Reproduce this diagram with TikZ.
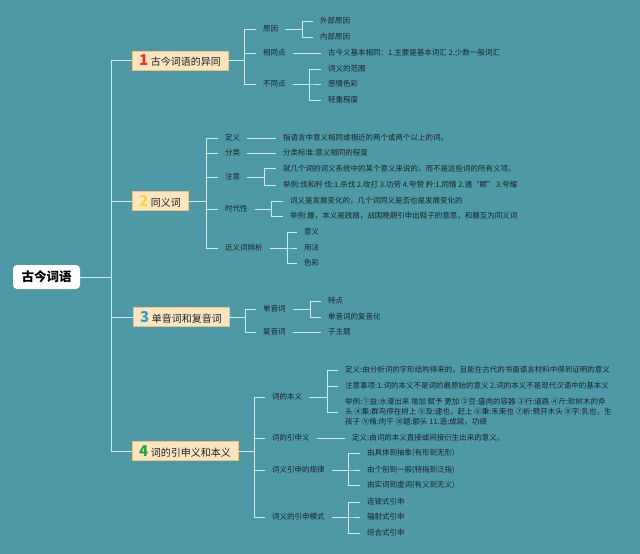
\documentclass[tikz,border=0pt]{standalone}
\usepackage{fontspec}
\setmainfont{Noto Sans CJK SC}
\definecolor{bg}{HTML}{4F98A6}
\definecolor{ln}{HTML}{CDEEF1}
\definecolor{tx}{HTML}{17252C}
\definecolor{boxf}{HTML}{FCE5BE}
\definecolor{boxd}{HTML}{E2C48C}
\definecolor{nred}{HTML}{E5352B}
\definecolor{nyel}{HTML}{F2D642}
\definecolor{nblu}{HTML}{2C9AD6}
\definecolor{ngrn}{HTML}{2E9E3A}
\newcommand\topicnum[2]{{\fontsize{15}{15}\selectfont\bfseries\color{#1}#2}\hspace{2.5pt}}
\tikzset{
  ezero/.style={draw=ln, line width=1pt},
  eone/.style={ezero, shorten >=5pt},
  etwo/.style={ezero, shorten >=5pt, shorten <=5pt},
  lab/.style={anchor=west, inner xsep=2pt, inner ysep=1pt, text=tx,
    font=\fontsize{7.5}{10}\selectfont, align=left},
  topic/.style={anchor=west, fill=boxf, draw=boxd, line width=0.4pt,
    minimum height=19pt, inner xsep=7pt, inner ysep=0pt, text=tx,
    font=\fontsize{10}{12}\selectfont},
  rootbox/.style={fill=white, rounded corners=4pt, minimum width=67pt,
    minimum height=24pt, inner sep=0pt, font=\fontsize{12.5}{14}\selectfont\bfseries, text=black}
}
\begin{document}
\begin{tikzpicture}[x=1pt,y=-1pt]
\fill[bg] (0,0) rectangle (640,554);
\useasboundingbox (0,0) rectangle (640,554);

% root and trunk
\node[rootbox] (root) at (46.5,277) {古今词语};
\coordinate (jt) at (111,0);
\node[topic] (t1) at (132,60.5) {\topicnum{nred}{1}古今词语的异同};
\node[topic] (t2) at (132,201) {\topicnum{nyel}{2}同义词};
\node[topic] (t3) at (133,317) {\topicnum{nblu}{3}单音词和复音词};
\node[topic] (t4) at (132,451) {\topicnum{ngrn}{4}词的引申义和本义};
\draw[ezero] (root.east) -- (jt |- root.east);
\foreach \t in {t1,t2,t3,t4} \draw[ezero] (jt |- root.east) |- (\t.west);

% section 1
\coordinate (j1) at (244,0);
\node[lab] (a1) at (261,29) {原因};
\node[lab] (a2) at (261,53) {相同点};
\node[lab] (a3) at (261,84) {不同点};
\foreach \c in {a1,a2,a3} \draw[eone] (t1.east) -- (j1 |- t1.east) |- (\c.west);
\coordinate (k1) at (302,0);
\node[lab] (a1a) at (318,21) {外部原因};
\node[lab] (a1b) at (318,37) {内部原因};
\foreach \c in {a1a,a1b} \draw[etwo] (a1.east) -- (k1 |- a1.east) |- (\c.west);
\node[lab] (a2a) at (326,53) {古今义基本相同：1.主要是基本词汇 2.少数一般词汇};
\draw[etwo] (a2.east) -- (a2a.west);
\coordinate (k3) at (309,0);
\node[lab] (a3a) at (326,69) {词义的范围};
\node[lab] (a3b) at (326,84) {感情色彩};
\node[lab] (a3c) at (326,100) {轻重程度};
\foreach \c in {a3a,a3b,a3c} \draw[etwo] (a3.east) -- (k3 |- a3.east) |- (\c.west);

% section 2
\coordinate (j2) at (206,0);
\node[lab] (b1) at (223,138) {定义};
\node[lab] (b2) at (223,153) {分类};
\node[lab] (b3) at (223,177) {注意};
\node[lab] (b4) at (223,209) {时代性};
\node[lab] (b5) at (223,248) {近义词辨析};
\foreach \c in {b1,b2,b3,b4,b5} \draw[eone] (t2.east) -- (j2 |- t2.east) |- (\c.west);
\node[lab] (b1a) at (281,138) {指语言中意义相同或相近的两个或两个以上的词。};
\draw[etwo] (b1.east) -- (b1a.west);
\node[lab] (b2a) at (281,153) {分类标准:意义相同的程度};
\draw[etwo] (b2.east) -- (b2a.west);
\coordinate (kb3) at (264,0);
\node[lab] (b3a) at (281,168.5) {就几个词的词义系统中的某个意义来说的，而不是这些词的所有义项。};
\node[lab] (b3b) at (281,185) {举例:伐和矜 伐:1.杀伐 2.攻打 3.功劳 4.夸赞 矜:1.同情 2.通“鳏” 3.夸耀};
\foreach \c in {b3a,b3b} \draw[etwo] (b3.east) -- (kb3 |- b3.east) |- (\c.west);
\coordinate (kb4) at (271,0);
\node[lab] (b4a) at (288,201) {词义是发展变化的，几个词同义是否也是发展变化的};
\node[lab] (b4b) at (288,216) {举例:履，本义是践踏，战国晚期引申出鞋子的意思，和屦互为同义词};
\foreach \c in {b4a,b4b} \draw[etwo] (b4.east) -- (kb4 |- b4.east) |- (\c.west);
\coordinate (kb5) at (287,0);
\node[lab] (b5a) at (302,232) {意义};
\node[lab] (b5b) at (302,248) {用法};
\node[lab] (b5c) at (302,263) {色彩};
\foreach \c in {b5a,b5b,b5c} \draw[etwo] (b5.east) -- (kb5 |- b5.east) |- (\c.west);

% section 3
\coordinate (j3) at (245,0);
\node[lab] (c1) at (261,309) {单音词};
\node[lab] (c2) at (261,332) {复音词};
\foreach \c in {c1,c2} \draw[eone] (t3.east) -- (j3 |- t3.east) |- (\c.west);
\coordinate (kc1) at (310,0);
\node[lab] (c1a) at (326,301) {特点};
\node[lab] (c1b) at (326,317) {单音词的复音化};
\foreach \c in {c1a,c1b} \draw[etwo] (c1.east) -- (kc1 |- c1.east) |- (\c.west);
\node[lab] (c2a) at (326,332) {子主题};
\draw[etwo] (c2.east) -- (c2a.west);

% section 4
\coordinate (j4) at (254,0);
\node[lab] (d1) at (270,397) {词的本义};
\node[lab] (d2) at (270,438) {词的引申义};
\node[lab] (d3) at (270,470) {词义引申的规律};
\node[lab] (d4) at (270,517) {词义的引申模式};
\foreach \c in {d1,d2,d3,d4} \draw[eone] (t4.east) -- (j4 |- t4.east) |- (\c.west);
\coordinate (kd1) at (327,0);
\node[lab] (d1a) at (343,370) {定义:由分析词的字形结构得来的，且能在古代的书面语言材料中得到证明的意义};
\node[lab] (d1b) at (343,386) {注意事项:1.词的本义不是词的最原始的意义 2.词的本义不是现代汉语中的基本义};
\node[lab] (d1c) at (343,412) {举例:①益:水漫出来 增加 赋予 更加 ②豆:盛肉的容器 ③行:道路 ④斤:砍树木的斧\\头 ④集:群鸟停在树上 ⑤及:逮也，赶上 ⑥秉:禾束也 ⑦析:劈开木头 ⑧字:乳也，生\\孩子 ⑨脩:肉干 ⑩题:额头 11.造:成就，功绩};
\foreach \c in {d1a,d1b,d1c} \draw[etwo] (d1.east) -- (kd1 |- d1.east) |- (\c.west);
\node[lab] (d2a) at (350,438) {定义:由词的本义直接或间接衍生出来的意义。};
\draw[etwo] (d2.east) -- (d2a.west);
\coordinate (kd3) at (348,0);
\node[lab] (d3a) at (365,453) {由具体到抽象(有形到无形)};
\node[lab] (d3b) at (365,470) {由个别到一般(特指到泛指)};
\node[lab] (d3c) at (365,485) {由实词到虚词(有义到无义)};
\foreach \c in {d3a,d3b,d3c} \draw[etwo] (d3.east) -- (kd3 |- d3.east) |- (\c.west);
\node[lab] (d4a) at (365,502) {连锁式引申};
\node[lab] (d4b) at (365,517) {辐射式引申};
\node[lab] (d4c) at (365,533) {综合式引申};
\foreach \c in {d4a,d4b,d4c} \draw[etwo] (d4.east) -- (kd3 |- d4.east) |- (\c.west);
\end{tikzpicture}
\end{document}
